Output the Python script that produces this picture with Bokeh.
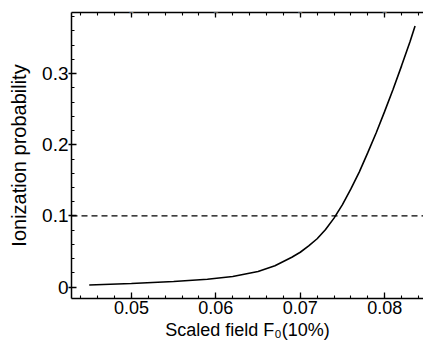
from bokeh.plotting import figure
from bokeh.models import LinearAxis, SingleIntervalTicker, Span, Range1d
from bokeh.embed import file_html
from bokeh.resources import INLINE

# Data
field = [0.045, 0.050, 0.055, 0.059, 0.062, 0.065, 0.067, 0.069, 0.070,
         0.071, 0.072, 0.073, 0.074, 0.075, 0.076, 0.077, 0.078, 0.079,
         0.080, 0.081, 0.082, 0.083, 0.0836]
probability = [0.003, 0.005, 0.008, 0.011, 0.015, 0.022, 0.030, 0.042, 0.049,
               0.058, 0.068, 0.081, 0.097, 0.116, 0.138, 0.162, 0.189, 0.217,
               0.247, 0.278, 0.311, 0.345, 0.367]
threshold = 0.1

FONT = "Liberation Sans"

p = figure(width=423, height=342, output_backend="svg", toolbar_location=None,
           x_range=Range1d(0.0429, 0.0846), y_range=Range1d(-0.016, 0.386),
           min_border_left=71, min_border_right=0, min_border_top=0,
           min_border_bottom=40)

p.background_fill_color = "white"
p.border_fill_color = "white"
p.outline_line_color = None
p.xgrid.visible = False
p.ygrid.visible = False

p.line(field, probability, line_color="black", line_width=1.6)
p.add_layout(Span(location=threshold, dimension="width", line_color="black",
                  line_width=1.3, line_dash="6 4"))

xa = p.xaxis[0]
ya = p.yaxis[0]
xa.ticker = SingleIntervalTicker(interval=0.01, num_minor_ticks=5)
xa.axis_label = "Scaled field F₀(10%)"
ya.ticker = SingleIntervalTicker(interval=0.1, num_minor_ticks=5)
ya.axis_label = "Ionization probability"

top = LinearAxis(ticker=SingleIntervalTicker(interval=0.01, num_minor_ticks=5))
p.add_layout(top, "above")

for ax in (xa, ya, top):
    ax.axis_line_color = "black"
    ax.axis_line_width = 1.5
    ax.major_tick_line_color = "black"
    ax.minor_tick_line_color = "black"
    ax.major_tick_line_width = 1.3
    ax.minor_tick_line_width = 1.1
    ax.major_label_text_font = FONT
    ax.axis_label_text_font = FONT
    ax.axis_label_text_font_style = "normal"
    ax.axis_label_text_color = "black"

xa.major_label_text_color = "black"
ya.major_label_text_color = "black"

xa.major_tick_in = 6
xa.major_tick_out = 0
xa.minor_tick_in = 3
xa.minor_tick_out = 0
xa.major_label_text_font_size = "18px"
xa.major_label_standoff = 2
xa.axis_label_text_font_size = "18px"
xa.axis_label_standoff = 3

ya.major_tick_in = 5
ya.major_tick_out = 3
ya.minor_tick_in = 3
ya.minor_tick_out = 0
ya.major_label_text_font_size = "19px"
ya.major_label_standoff = 0
ya.axis_label_text_font_size = "20px"
ya.axis_label_standoff = 9

top.major_tick_in = 5
top.major_tick_out = 0
top.minor_tick_in = 3
top.minor_tick_out = 0
top.major_label_text_font_size = "2px"
top.major_label_text_color = "white"
top.major_label_standoff = 0
top.axis_label = "."
top.axis_label_text_color = "white"
top.axis_label_text_font_size = "7px"
top.axis_label_standoff = 0

open("out.html", "w").write(file_html(p, INLINE))
